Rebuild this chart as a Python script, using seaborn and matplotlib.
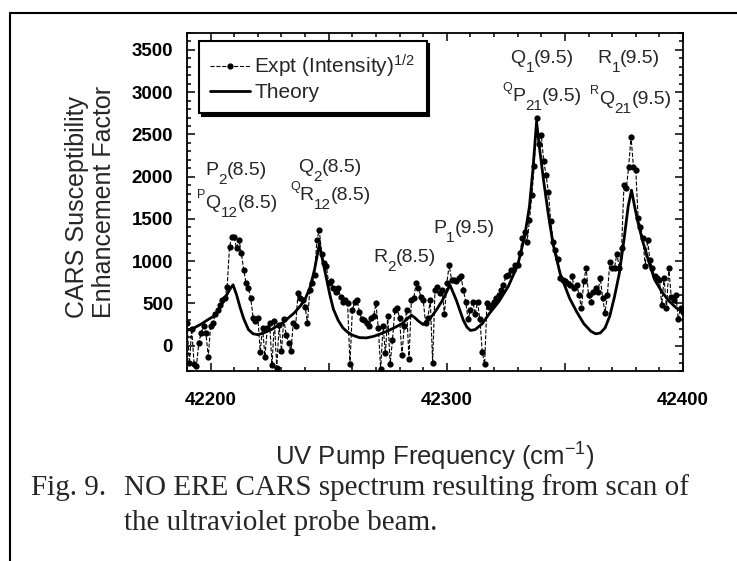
import numpy as np
import pandas as pd
import seaborn as sns
import matplotlib.pyplot as plt
from matplotlib.lines import Line2D
from matplotlib.ticker import MultipleLocator, FuncFormatter

# NO ERE CARS spectrum, UV pump scan

# experiment: sqrt of intensity, one point per cm-1
expt_freq = list(range(42190, 42401))
expt_val = [
    270, -210, 200, -220, -240, 35, 150, 230, 150, -130,          # 42190
    230, 270, 370, 420, 480, 540, 560, 700, 1170, 1290,           # 42200
    1280, 1150, 1250, 1100, 900, 740, 680, 560, 330, 290,         # 42210
    330, -70, 210, -130, 210, 270, -230, 290, -260, 240,          # 42220
    -60, 310, 130, 30, -60, 270, 230, 620, 560, 540,              # 42230
    460, 270, 660, 740, 840, 1250, 1370, 1090, 980, 940,          # 42240
    740, 760, 680, 640, 680, 580, 520, 540, 500, -220,            # 42250
    420, 520, 540, 400, 310, 300, 270, 230, 330, 350,             # 42260
    500, 210, -280, 230, -90, 350, -220, 70, 420, 440,            # 42270
    330, -110, 230, 420, -160, 540, 560, 740, 680, 580,           # 42280
    540, 270, 330, 540, -200, 660, 700, 620, 660, 370,            # 42290
    740, 950, 780, 780, 760, 800, 820, 660, 520, 310,             # 42300
    420, 520, 370, 520, 310, -70, -220, 500, 460, 480,            # 42310
    520, 560, 600, 660, 720, 820, 840, 900, 900, 950,             # 42320
    950, 1100, 1270, 1350, 1230, 1490, 1780, 2130, 2700, 2390,    # 42330
    2490, 2190, 2020, 1820, 1470, 1230, 1130, 1030, 800, 780,     # 42340
    760, 740, 720, 820, 680, 720, 600, 440, 760, 920,             # 42350
    600, 520, 640, 680, 640, 800, 560, 390, 600, 990,             # 42360
    920, 920, 1090, 920, 1150, 1900, 1860, 2120, 2470, 2120,      # 42370
    2080, 1510, 1410, 1270, 940, 1250, 1010, 920, 820, 800,       # 42380
    780, 480, 800, 440, 920, 580, 540, 600, 310, 440,             # 42390
    400,                                                          # 42400
]

# theory curve
theory_freq = [
    42190, 42193, 42196, 42199, 42202, 42204, 42206, 42208, 42209.5, 42211,
    42212.5, 42214, 42216, 42218, 42220, 42222, 42224, 42226, 42229, 42231,
    42233, 42235.5, 42238, 42240, 42242, 42244, 42246, 42247.5, 42249, 42250.5,
    42252, 42254, 42256, 42258, 42260, 42263, 42266, 42269, 42272, 42275,
    42278, 42281, 42283, 42285, 42286.5, 42288, 42290, 42292, 42294, 42296,
    42298, 42300, 42301.3, 42302.5, 42304, 42305.5, 42307, 42308.5, 42310, 42312,
    42315, 42318, 42322, 42326, 42330, 42333, 42335, 42336.5, 42338, 42339.2,
    42341, 42343, 42345, 42348, 42352, 42355, 42358, 42361, 42363, 42365,
    42367, 42369, 42371, 42373, 42375, 42376.8, 42378.2, 42379.5, 42381, 42383,
    42386, 42388, 42391, 42394, 42397, 42400,
]
theory_val = [
    180, 210, 255, 310, 360, 450, 560, 660, 720, 600,
    450, 320, 190, 140, 130, 145, 170, 195, 245, 280,
    330, 390, 470, 550, 680, 900, 1200, 1000, 800, 600,
    430, 300, 210, 160, 125, 95, 92, 110, 140, 175,
    215, 260, 310, 360, 330, 290, 250, 300, 360, 440,
    530, 640, 720, 640, 540, 420, 300, 220, 180, 190,
    260, 380, 520, 700, 950, 1300, 1650, 2100, 2650, 2350,
    1950, 1550, 1200, 850, 560, 400, 260, 170, 140, 150,
    210, 350, 580, 850, 1250, 1650, 1840, 1650, 1450, 1230,
    950, 780, 640, 530, 450, 400,
]

# line assignments: (text, role) pieces, role n = normal, sub, sup
peak_labels = [
    [("P", "n"), ("2", "sub"), ("(8.5)", "n")],
    [("P", "sup"), ("Q", "n"), ("12", "sub"), ("(8.5)", "n")],
    [("Q", "n"), ("2", "sub"), ("(8.5)", "n")],
    [("Q", "sup"), ("R", "n"), ("12", "sub"), ("(8.5)", "n")],
    [("R", "n"), ("2", "sub"), ("(8.5)", "n")],
    [("P", "n"), ("1", "sub"), ("(9.5)", "n")],
    [("Q", "n"), ("1", "sub"), ("(9.5)", "n")],
    [("Q", "sup"), ("P", "n"), ("21", "sub"), ("(9.5)", "n")],
    [("R", "n"), ("1", "sub"), ("(9.5)", "n")],
    [("R", "sup"), ("Q", "n"), ("21", "sub"), ("(9.5)", "n")],
]
label_freq = [42197.6, 42194.2, 42237, 42233.6, 42268.8, 42294.2,
              42326.9, 42323.5, 42363.7, 42360.8]
label_val = [2017, 1627, 2052, 1722, 990, 1333, 3349, 2900, 3349, 2860]

sns.set_style("ticks")
plt.rcParams['font.family'] = ['Liberation Sans', 'DejaVu Sans']
plt.rcParams['mathtext.default'] = 'regular'

fig = plt.figure(figsize=(7.37, 5.61), dpi=100)
ax = fig.add_axes([187/737, 1-371/561, 496/737, 338/561])

expt = pd.DataFrame({"freq": expt_freq, "val": expt_val})
sns.lineplot(data=expt, x="freq", y="val", ax=ax, color="black", lw=0.8,
             linestyle="--", marker="o", markersize=4.5, markeredgewidth=0,
             errorbar=None, label="Expt (Intensity)$^{1/2}$")
sns.lineplot(x=theory_freq, y=theory_val, ax=ax, color="black", lw=2.0,
             errorbar=None, label="Theory")

sizes = {"n": 14, "sub": 11, "sup": 9}
shifts = {"n": 0, "sub": -6.5, "sup": 7}
for parts, x, y in zip(peak_labels, label_freq, label_val):
    prev = None
    for text, role in parts:
        if prev is None:
            prev = ax.annotate(text, xy=(x, y), xycoords="data",
                               xytext=(0, shifts[role]), textcoords="offset points",
                               fontsize=sizes[role], ha="left", va="baseline")
        else:
            prev = ax.annotate(text, xy=(1, y), xycoords=(prev, "data"),
                               xytext=(0, shifts[role]), textcoords="offset points",
                               fontsize=sizes[role], ha="left", va="baseline")

ax.set_xlim(42190, 42400)
ax.set_ylim(-300, 3700)
ax.xaxis.set_major_locator(MultipleLocator(50))
ax.xaxis.set_minor_locator(MultipleLocator(10))
ax.xaxis.set_major_formatter(FuncFormatter(lambda v, p: f"{v:.0f}" if v % 100 == 0 else ""))
ax.yaxis.set_major_locator(MultipleLocator(500))
ax.yaxis.set_minor_locator(MultipleLocator(100))
ax.tick_params(which="both", direction="in", top=True, right=True, colors="black", width=1.1)
ax.tick_params(which="major", length=5.5, labelsize=13.5)
ax.tick_params(which="minor", length=3)
ax.tick_params(axis="x", pad=15)
ax.tick_params(axis="y", pad=10)
for sp in ax.spines.values():
    sp.set_linewidth(1.3)
    sp.set_color("black")

ax.set_xlabel("UV Pump Frequency (cm$^{-1}$)", fontsize=18.5, labelpad=23)
ax.set_ylabel("CARS Susceptibility\nEnhancement Factor", fontsize=18, labelpad=11,
              multialignment="left")

leg = ax.legend(loc="upper left", bbox_to_anchor=(0.024, 0.976), borderaxespad=0,
                frameon=True, fancybox=False, shadow={"color": "black", "alpha": 1},
                edgecolor="black", framealpha=1, fontsize=15, handlelength=1.9,
                handletextpad=0.2, labelspacing=0.15, borderpad=0.55)
leg.get_frame().set_linewidth(1.5)

for lab in ax.get_xticklabels() + ax.get_yticklabels():
    lab.set_fontweight("bold")

# page frame and caption
fig.add_artist(Line2D([10/737, 1], [1-13/561, 1-13/561], transform=fig.transFigure, color="black", lw=1.5))
fig.add_artist(Line2D([10/737, 10/737], [0, 1-13/561], transform=fig.transFigure, color="black", lw=1.5))
fig.text(31/737, 1-495/561, "Fig. 9.", family="Liberation Serif", fontsize=21, va="baseline")
fig.text(124/737, 1-495/561, "NO ERE CARS spectrum resulting from scan of",
         family="Liberation Serif", fontsize=21, va="baseline")
fig.text(124/737, 1-530/561, "the ultraviolet probe beam.",
         family="Liberation Serif", fontsize=21, va="baseline")

fig.savefig("out.png", dpi=100)
